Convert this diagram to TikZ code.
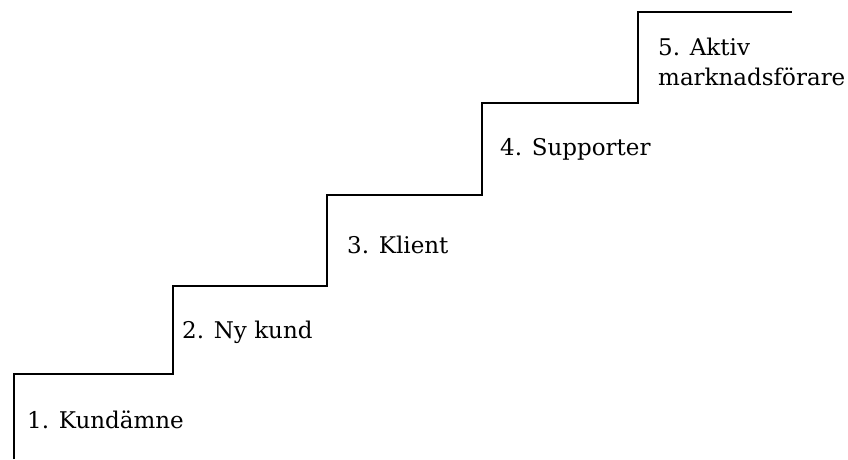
\documentclass[tikz,border=0pt]{standalone}
\usepackage{fontspec}
\setmainfont{DejaVu Serif}
\begin{document}
\begin{tikzpicture}[x=1pt,y=-1pt,
  stairline/.style={line width=2.5pt,line join=miter},
  steplabel/.style={anchor=base west,inner sep=0pt,font=\fontsize{23}{30}\selectfont}]
\useasboundingbox (0,0) rectangle (848,459);
% staircase outline
\coordinate (s0) at (14,459);
\coordinate (s1) at (14,374);
\coordinate (s2) at (173,374);
\coordinate (s3) at (173,286);
\coordinate (s4) at (327,286);
\coordinate (s5) at (327,195);
\coordinate (s6) at (482,195);
\coordinate (s7) at (482,103);
\coordinate (s8) at (638,103);
\coordinate (s9) at (638,12);
\coordinate (s10) at (792,12);
\draw[stairline] (s0) -- (s1) -- (s2) -- (s3) -- (s4) -- (s5) -- (s6) -- (s7) -- (s8) -- (s9) -- (s10);
% step labels
\node[steplabel] (l1) at (27,428) {1. Kundämne};
\node[steplabel] (l2) at (182,338) {2. Ny kund};
\node[steplabel] (l3) at (347,253) {3. Klient};
\node[steplabel] (l4) at (500,155) {4. Supporter};
\node[steplabel] (l5a) at (658,55) {5. Aktiv};
\node[steplabel] (l5b) at (658,85) {marknadsförare};
\end{tikzpicture}
\end{document}
